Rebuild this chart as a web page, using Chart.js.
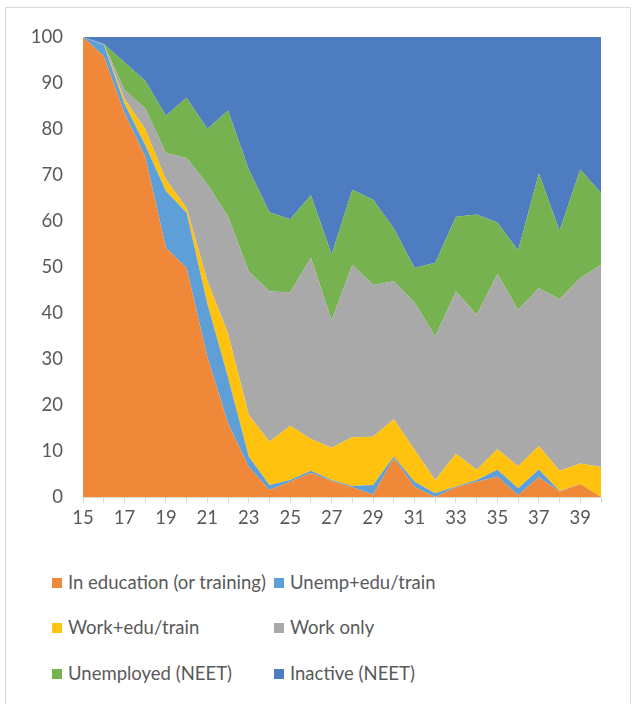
<!DOCTYPE html>
<html>
<head>
<meta charset="utf-8">
<script src="https://cdn.jsdelivr.net/npm/chart.js@4/dist/chart.umd.min.js"></script>
<style>
  html, body { margin: 0; padding: 0; background: #fff; }
  #wrap { position: relative; width: 634px; height: 704px; overflow: hidden; }
  #frame { position: absolute; left: 5px; top: 7px; width: 626px; height: 720px; border: 1px solid #d9d9d9; box-sizing: border-box; }
  #c { position: absolute; left: 0; top: 0; }
  #legend { position: absolute; left: 0; top: 0; font-family: Lato, "Open Sans", sans-serif; font-size: 18.5px; color: #595959; }
  .item { position: absolute; white-space: nowrap; line-height: 24px; }
  .sw { display: inline-block; width: 10px; height: 10px; margin-right: 6px; vertical-align: 1px; }
</style>
</head>
<body>
<div id="wrap">
  <div id="frame"></div>
  <canvas id="c" width="634" height="540"></canvas>
  <div id="legend"></div>
</div>
<script>
// Ages on the category axis
const ages = [15,16,17,18,19,20,21,22,23,24,25,26,27,28,29,30,31,32,33,34,35,36,37,38,39,40];

// Share of each age group by activity status (%)
const inEducation = [100,95.8,83.5,74,54.2,49.8,30.5,16,6.5,1.5,3.3,5.2,3.5,2.1,0.5,8.4,2.2,0,2.1,3.3,4.4,0.4,4.3,1.2,2.8,0];
const unempEduTrain = [0,2.5,2,2.5,12.3,12,11.5,10,2.3,1.1,0.4,0.5,0.2,0.3,2.1,0.4,1.1,0.8,0.2,0.4,1.5,1.5,1.7,0.1,0,0];
const workEduTrain = [0,0,1,3.5,2.5,1,5,9.5,9,9.4,11.8,6.9,7,10.6,10.5,8.1,6.9,2.9,7.1,2.2,4.5,4.8,5.1,4.4,4.5,6.5];
const workOnly = [0,0.2,2,4.5,5.8,10.9,21,25.5,31.2,32.7,29,39.4,27.7,37.5,33,30,32.1,31.2,35.3,33.7,38.1,34,34.3,37.3,40.3,44];
const unemployedNeet = [0,0,6,6,8.1,13.1,12,23,22.2,17.2,15.9,13.6,14.3,16.3,18.5,11.5,7.5,16,16.2,21.8,11.2,12.9,24.9,14.9,23.6,15.6];
const inactiveNeet = [0,1.5,5.5,9.5,17.1,13.2,20,16,28.8,38.1,39.6,34.4,47.3,33.2,35.4,41.6,50.2,49.1,39.1,38.6,40.3,46.4,29.7,42.1,28.8,33.9];

const seriesNames = ['In education (or training)', 'Unemp+edu/train', 'Work+edu/train', 'Work only', 'Unemployed (NEET)', 'Inactive (NEET)'];
const seriesColors = ['#EF8838', '#5E9FD8', '#FFC20E', '#A9A9A9', '#76B24F', '#4E7CC0'];
const seriesValues = [inEducation, unempEduTrain, workEduTrain, workOnly, unemployedNeet, inactiveNeet];

const yTicks = [0,10,20,30,40,50,60,70,80,90,100];

const datasets = seriesValues.map((vals, i) => ({
  label: seriesNames[i],
  data: vals,
  backgroundColor: seriesColors[i],
  borderColor: seriesColors[i],
  borderWidth: 0,
  pointRadius: 0,
  tension: 0,
  fill: i === 0 ? 'origin' : '-1'
}));

const AXIS_FONT = { family: 'Lato, "Open Sans", sans-serif', size: 18.5 };

new Chart(document.getElementById('c'), {
  type: 'line',
  data: { labels: ages, datasets },
  options: {
    responsive: false,
    animation: false,
    layout: { padding: { left: 0, top: 37, right: 33, bottom: 0 } },
    plugins: { legend: { display: false }, tooltip: { enabled: false } },
    scales: {
      x: {
        offset: false,
        grid: { display: true, drawOnChartArea: false, drawTicks: true, tickLength: 6, color: '#d9d9d9' },
        border: { display: true, color: '#d9d9d9' },
        ticks: {
          autoSkip: false, maxRotation: 0, color: '#595959', font: AXIS_FONT, padding: 4,
          callback: function (v, i) { return i % 2 === 0 ? String(ages[i]) : ''; }
        },
        afterFit: s => { s.height = 43; }
      },
      y: {
        stacked: true,
        min: 0, max: 100,
        afterBuildTicks: s => { s.ticks = yTicks.map(v => ({ value: v })); },
        grid: { display: false, drawTicks: false },
        border: { display: false },
        ticks: { color: '#595959', font: AXIS_FONT, padding: 20 },
        afterFit: s => { s.width = 83; }
      }
    }
  }
});

// Two-column legend under the plot
const legendPos = [[52, 570], [274, 570], [52, 615], [274, 615], [52, 661], [274, 661]];
const legend = document.getElementById('legend');
seriesNames.forEach((name, i) => {
  const el = document.createElement('div');
  el.className = 'item';
  el.style.left = legendPos[i][0] + 'px';
  el.style.top = legendPos[i][1] + 'px';
  const sw = document.createElement('span');
  sw.className = 'sw';
  sw.style.background = seriesColors[i];
  el.appendChild(sw);
  el.appendChild(document.createTextNode(name));
  legend.appendChild(el);
});
</script>
</body>
</html>
